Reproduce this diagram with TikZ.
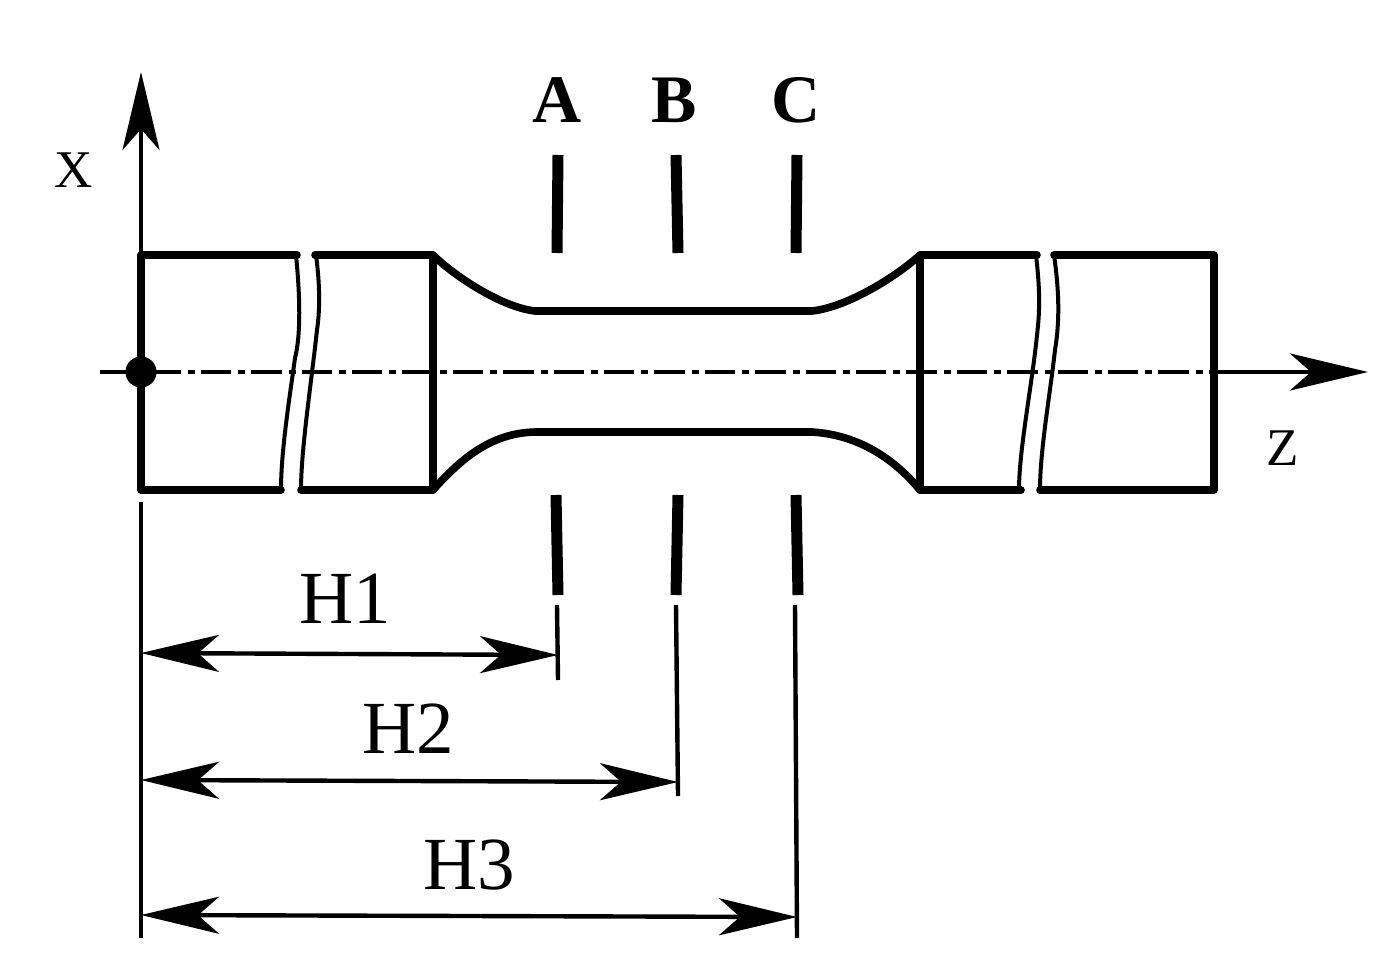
\documentclass[tikz,border=0pt]{standalone}
\usepackage{fontspec}
\setmainfont{Liberation Serif}
\usetikzlibrary{arrows.meta, positioning, calc}

\begin{document}
\begin{tikzpicture}[
    x=0.5pt, y=-0.5pt,
    body/.style={line width=3.8pt, line join=round, line cap=round},
    breakline/.style={line width=2pt},
    thin line/.style={line width=2.2pt},
    tick/.style={line width=5.5pt},
    axis/.style={line width=2.2pt, dash pattern=on 15.2pt off 3.5pt on 3.5pt off 3pt},
    arrow/.style={line width=2.2pt, -{Stealth[length=39pt, width=18.5pt, inset=10.5pt]}},
    dim/.style={line width=2.2pt, {Stealth[length=39pt, width=18.5pt, inset=10.5pt]}-{Stealth[length=39pt, width=18.5pt, inset=10.5pt]}},
    big/.style={font=\fontsize{37.5}{40}\selectfont, inner sep=0pt},
    section/.style={font=\bfseries\fontsize{34}{36}\selectfont, inner sep=0pt},
    small/.style={font=\fontsize{26.5}{28}\selectfont, inner sep=0pt}
]
\useasboundingbox (0,0) rectangle (1391,968);

% Outer coordinates
\coordinate (origin) at (141,372);
\coordinate (xtop) at (141,72);
\coordinate (xstart) at (141,255);
\coordinate (xlow) at (141,502);
\coordinate (xend) at (141,938);
\coordinate (zstart) at (100,372);
\coordinate (zmid) at (1213,372);
\coordinate (ztip) at (1368,372);

% Axes
\draw[axis] (zstart) -- (zmid);
\draw[arrow] (zmid) -- (ztip);
\draw[arrow] (xstart) -- (xtop);
\draw[thin line] (xlow) -- (xend);
\node[circle, fill=black, minimum size=15.5pt, inner sep=0pt] (dot) at (origin) {};

\node[small] (xlabel) at (74,170) {X};
\node[small] (zlabel) at (1283,448) {Z};

% Left grip
\draw[body] (297,255) -- (141,255) -- (141,490) -- (281,490);
\draw[breakline] (296,255) .. controls (300,295) and (301,335) .. (295,358) .. controls (290,395) and (281,450) .. (281,490);
\draw[body] (315,255) -- (433,255) -- (433,490) -- (301,490);
\draw[breakline] (316,255) .. controls (320,285) and (320,310) .. (317,330) .. controls (311,385) and (301,450) .. (301,490);

% Waist
\draw[body] (433,255) .. controls (452,274) and (500,307) .. (535,311) -- (812,311) .. controls (848,307) and (897,276) .. (920,255);
\draw[body] (433,490) .. controls (460,460) and (490,433) .. (535,432) -- (812,432) .. controls (860,435) and (895,460) .. (920,490);

% Right grip
\draw[body] (1037,255) -- (920,255) -- (920,490) -- (1021,490);
\draw[breakline] (1036,255) .. controls (1040,290) and (1040,310) .. (1037,335) .. controls (1032,385) and (1019,450) .. (1019,490);
\draw[body] (1054,255) -- (1214,255) -- (1214,490) -- (1040,490);
\draw[breakline] (1054,255) .. controls (1059,290) and (1060,320) .. (1055,350) .. controls (1050,395) and (1040,450) .. (1040,490);

% Section marks
\node[section] (a) at (557,100) {A};
\node[section] (b) at (674,100) {B};
\node[section] (c) at (796,100) {C};

\draw[tick] (558,155) -- (557,253);
\draw[tick] (676,155) -- (678,253);
\draw[tick] (797,155) -- (796,253);
\draw[tick] (556,495) -- (558,595);
\draw[tick] (678,495) -- (676,595);
\draw[tick] (796,495) -- (798,595);

% Dimensions
\coordinate (h1end) at (558,655);
\coordinate (h2end) at (678,782);
\coordinate (h3end) at (797,917);

\draw[thin line] (557,605) -- (558,680);
\draw[thin line] (676,605) -- (678,796);
\draw[thin line] (795,605) -- (797,938);

\draw[dim] (141,653) -- (h1end);
\draw[dim] (141,780) -- (h2end);
\draw[dim] (141,915) -- (h3end);

\node[big] (h1) at (345.5,599) {H1};
\node[big] (h2) at (408,729) {H2};
\node[big] (h3) at (469.5,865) {H3};

\end{tikzpicture}
\end{document}
